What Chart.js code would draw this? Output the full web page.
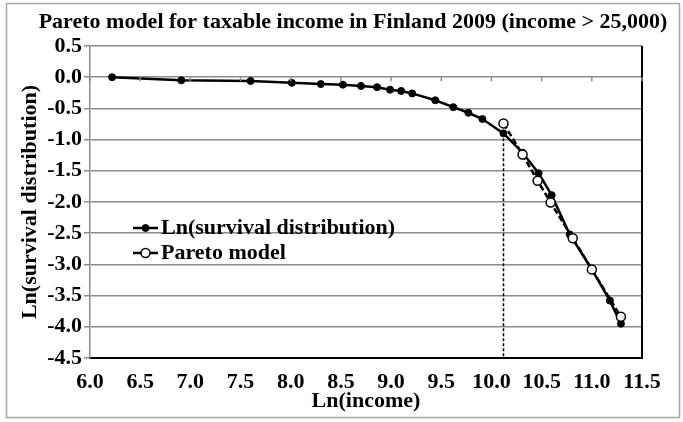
<!DOCTYPE html>
<html>
<head>
<meta charset="utf-8">
<title>Pareto model</title>
<script src="https://cdn.jsdelivr.net/npm/chart.js@4.4.1/dist/chart.umd.min.js"></script>
<style>
	html, body { margin: 0; padding: 0; background: #fff; }
	#wrap { width: 683px; height: 422px; }
</style>
</head>
<body>
<div id="wrap"><canvas id="chart" width="683" height="422"></canvas></div>
<script>
const chartTitle = "Pareto model for taxable income in Finland 2009 (income > 25,000)";
const xAxisTitle = "Ln(income)";
const yAxisTitle = "Ln(survival distribution)";

const survivalLabel = "Ln(survival distribution)";
const survivalX = [6.22, 6.91, 7.60, 8.01, 8.30, 8.52, 8.70, 8.86, 8.99, 9.10, 9.21, 9.44, 9.62, 9.77, 9.91, 10.12, 10.31, 10.47, 10.60, 10.78, 11.00, 11.18, 11.29];
const survivalY = [0.00, -0.05, -0.06, -0.09, -0.11, -0.12, -0.14, -0.16, -0.20, -0.22, -0.26, -0.37, -0.48, -0.57, -0.67, -0.90, -1.21, -1.54, -1.89, -2.52, -3.08, -3.58, -3.95];

const paretoLabel = "Pareto model";
const paretoX = [10.12, 10.31, 10.46, 10.59, 10.81, 11.00, 11.29];
const paretoY = [-0.74, -1.24, -1.66, -2.01, -2.58, -3.08, -3.84];

// income > 25,000 cut-off marker
const cutoffX = [10.12, 10.12];
const cutoffY = [-0.90, -4.5];

const xTickValues = [6.0, 6.5, 7.0, 7.5, 8.0, 8.5, 9.0, 9.5, 10.0, 10.5, 11.0, 11.5];
const yTickValues = [0.5, 0.0, -0.5, -1.0, -1.5, -2.0, -2.5, -3.0, -3.5, -4.0, -4.5];

const FONT = "'Liberation Serif', 'Times New Roman', serif";
const GRID = "#8c8c8c";
const TEXT_SIZE = 22;

const toPoints = (xs, ys) => xs.map((x, i) => ({ x, y: ys[i] }));

const decorPlugin = {
	id: "decor",
	beforeDraw(chart) {
		const ctx = chart.ctx;
		ctx.save();
		ctx.fillStyle = "#fff";
		ctx.fillRect(0, 0, chart.width, chart.height);
		ctx.restore();
	},
	afterDraw(chart) {
		const { ctx, chartArea: a, scales } = chart;
		ctx.save();

		// outer frame
		ctx.strokeStyle = "#a6a6a6";
		ctx.lineWidth = 1.5;
		ctx.strokeRect(6.5, 3.5, 673, 414);

		// right edge of plot area
		ctx.strokeStyle = "#000";
		ctx.lineWidth = 2;
		ctx.beginPath();
		ctx.moveTo(a.right, a.top);
		ctx.lineTo(a.right, a.bottom + 1);
		ctx.stroke();

		// tick marks on the zero line
		const y0 = scales.y.getPixelForValue(0);
		ctx.strokeStyle = GRID;
		ctx.lineWidth = 1.5;
		xTickValues.forEach((v) => {
			const x = scales.x.getPixelForValue(v);
			ctx.beginPath();
			ctx.moveTo(x, y0);
			ctx.lineTo(x, y0 + 4);
			ctx.stroke();
		});

		// title
		ctx.fillStyle = "#000";
		ctx.font = "bold " + TEXT_SIZE + "px " + FONT;
		ctx.textAlign = "center";
		ctx.textBaseline = "middle";
		ctx.fillText(chartTitle, 353, 22);

		// legend inside the plot
		const rows = chart.data.datasets.filter((d) => d.inLegend);
		ctx.textAlign = "left";
		rows.forEach((d, i) => {
			const y = a.top + 182 + i * 25;
			const x0 = a.left + 43;
			const x1 = a.left + 68;
			ctx.strokeStyle = d.borderColor;
			ctx.lineWidth = d.borderWidth;
			ctx.beginPath();
			ctx.moveTo(x0, y);
			ctx.lineTo(x1, y);
			ctx.stroke();
			ctx.beginPath();
			ctx.arc((x0 + x1) / 2, y, d.pointRadius, 0, Math.PI * 2);
			ctx.fillStyle = d.pointBackgroundColor;
			ctx.fill();
			ctx.lineWidth = d.pointBorderWidth;
			ctx.strokeStyle = d.pointBorderColor;
			ctx.stroke();
			ctx.fillStyle = "#000";
			ctx.fillText(d.label, x1 + 3, y);
		});
		ctx.restore();
	},
};

const ctx = document.getElementById("chart").getContext("2d");
new Chart(ctx, {
	type: "scatter",
	data: {
		datasets: [
			{
				label: survivalLabel,
				inLegend: true,
				data: toPoints(survivalX, survivalY),
				showLine: true,
				borderColor: "#000",
				borderWidth: 2.5,
				pointRadius: 3.5,
				pointBackgroundColor: "#000",
				pointBorderColor: "#000",
				pointBorderWidth: 1,
				order: 1,
			},
			{
				label: paretoLabel,
				inLegend: true,
				data: toPoints(paretoX, paretoY),
				showLine: true,
				borderColor: "#000",
				borderWidth: 2.5,
				borderDash: [6, 3],
				pointRadius: 4.5,
				pointBackgroundColor: "#fff",
				pointBorderColor: "#000",
				pointBorderWidth: 1.5,
				order: 0,
			},
			{
				label: "",
				inLegend: false,
				data: toPoints(cutoffX, cutoffY),
				showLine: true,
				borderColor: "#000",
				borderWidth: 1.5,
				borderDash: [3, 2],
				pointRadius: 0,
				order: 2,
			},
		],
	},
	options: {
		responsive: false,
		animation: false,
		layout: { padding: { top: 46, right: 41, bottom: 0, left: 0 } },
		plugins: {
			legend: { display: false },
			title: { display: false },
			tooltip: { enabled: false },
		},
		scales: {
			x: {
				type: "linear",
				min: 6,
				max: 11.5,
				afterBuildTicks: (s) => { s.ticks = xTickValues.map((v) => ({ value: v })); },
				afterFit: (s) => { s.height = 64; },
				grid: { display: false, drawTicks: false },
				border: { display: true, color: "#000", width: 2 },
				ticks: {
					padding: 11,
					color: "#000",
					font: { family: FONT, size: TEXT_SIZE, weight: "bold" },
					callback: (v) => Number(v).toFixed(1),
				},
				title: {
					display: true,
					text: xAxisTitle,
					color: "#000",
					font: { family: FONT, size: TEXT_SIZE, weight: "bold" },
					padding: { top: 0, bottom: 7 },
				},
			},
			y: {
				type: "linear",
				min: -4.5,
				max: 0.5,
				afterBuildTicks: (s) => { s.ticks = yTickValues.map((v) => ({ value: v })); },
				afterFit: (s) => { s.width = 90; },
				grid: { color: GRID, lineWidth: 1.5, drawTicks: true, tickLength: 6 },
				border: { display: true, color: GRID, width: 1.5 },
				ticks: {
					padding: 2,
					color: "#000",
					font: { family: FONT, size: TEXT_SIZE, weight: "bold" },
					callback: (v) => Number(v).toFixed(1),
				},
				title: {
					display: true,
					text: yAxisTitle,
					color: "#000",
					font: { family: FONT, size: TEXT_SIZE, weight: "bold" },
					padding: { top: 17, bottom: 0 },
				},
			},
		},
	},
	plugins: [decorPlugin],
});
</script>
</body>
</html>
